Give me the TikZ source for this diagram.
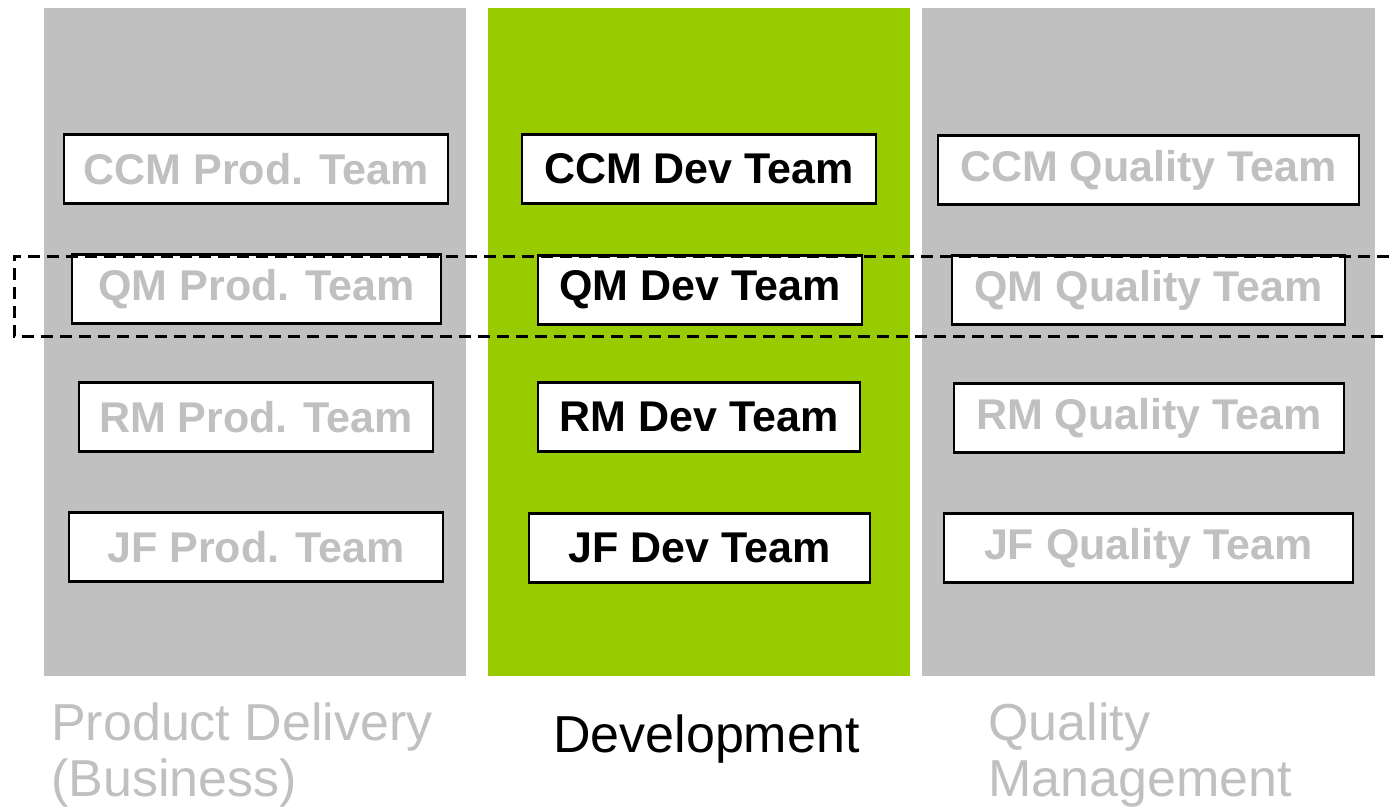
\documentclass[tikz,border=0pt]{standalone}
\usepackage{fontspec}
\usepackage{xcolor}
\setmainfont{Liberation Sans}
\definecolor{lanegray}{HTML}{C0C0C0}
\definecolor{devgreen}{HTML}{99CC00}
\definecolor{mutedtext}{HTML}{C0C0C0}

\begin{document}
\begin{tikzpicture}
		[x=1pt,y=-1pt,
		team/.style={rectangle,draw=black,fill=white,line width=2.2pt,inner sep=0pt,minimum height=69pt,font=\fontsize{43}{50}\selectfont\bfseries},
		muted/.style={team,text=mutedtext},
		active/.style={team,text=black},
		lanelabel/.style={inner sep=0pt,anchor=north west,align=left,font=\fontsize{52}{56}\selectfont}]
		\useasboundingbox (0,0) rectangle (1389,809);

		% lanes
		\fill [lanegray] (44,8) rectangle (466,676);
		\fill [devgreen] (488,8) rectangle (910,676);
		\fill [lanegray] (922,8) rectangle (1375,676);

		\node [muted, minimum width=384pt] (p1) at (256,169) {CCM Prod. Team};
		\node [muted, minimum width=369pt] (p2) at (256.5,289) {QM Prod. Team};
		\node [muted, minimum width=354pt] (p3) at (256,417) {RM Prod. Team};
		\node [muted, minimum width=374pt] (p4) at (256,547) {JF Prod. Team};

		\node [active, minimum width=354pt] (d1) at (699,169) {CCM Dev Team};
		\node [active, minimum width=324pt] (d2) at (700,290) {QM Dev Team};
		\node [active, minimum width=322pt] (d3) at (699,417) {RM Dev Team};
		\node [active, minimum width=341pt] (d4) at (699.5,548) {JF Dev Team};

		\node [muted, minimum width=421pt] (q1) at (1148.5,170) {CCM Quality Team};
		\node [muted, minimum width=393pt] (q2) at (1148.5,290) {QM Quality Team};
		\node [muted, minimum width=390pt] (q3) at (1149,418) {RM Quality Team};
		\node [muted, minimum width=409pt] (q4) at (1148.5,548) {JF Quality Team};

		% QM row selection
		\coordinate (s1) at (1389,256);
		\coordinate (s2) at (14,336);
		\coordinate (s3) at (1389,336);
		\draw [line width=3pt, dash pattern=on 12pt off 7pt] (s1) -| (s2) -- (s3);

		\node [lanelabel, text=lanegray] (lp) at (51,703) {Product Delivery\\(Business)};
		\node [lanelabel, text=black] (ld) at (553,715) {Development};
		\node [lanelabel, text=lanegray] (lq) at (988,703) {Quality\\Management};

	\end{tikzpicture}
\end{document}
